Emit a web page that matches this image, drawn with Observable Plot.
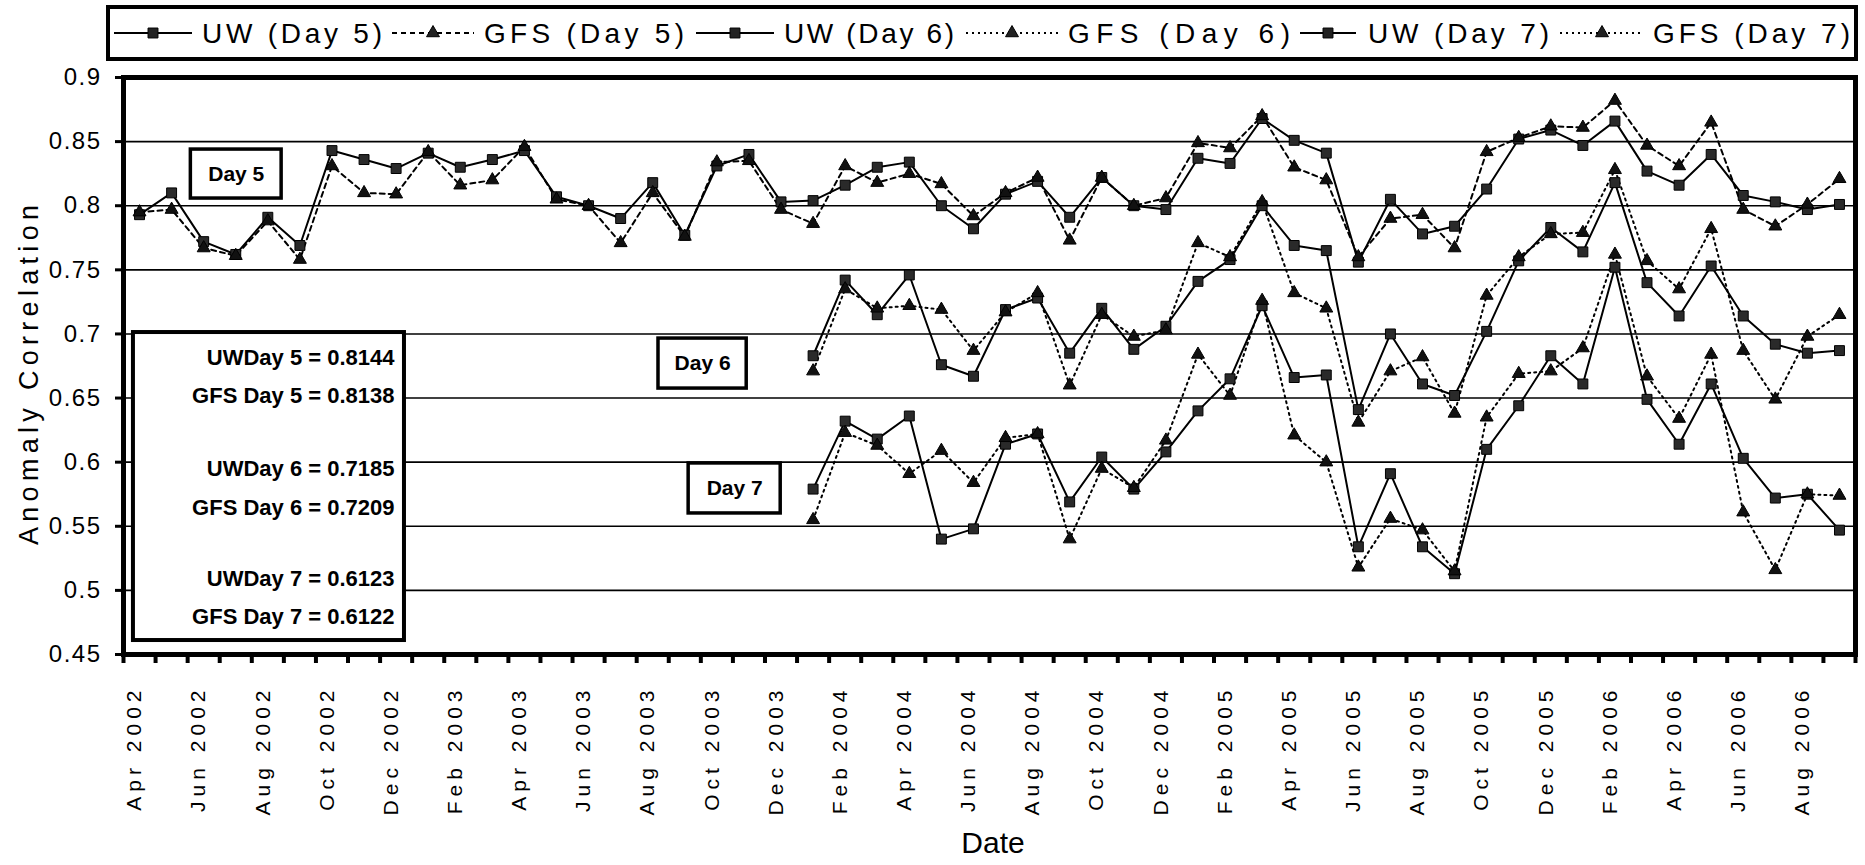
<!DOCTYPE html>
<html>
<head>
<meta charset="utf-8">
<script src="https://cdn.jsdelivr.net/npm/d3@7"></script>
<script src="https://cdn.jsdelivr.net/npm/@observablehq/plot@0.6"></script>
<style>
  html, body { margin: 0; padding: 0; background: #fff; }
  #chart { width: 1865px; height: 865px; }
  svg { font-family: "Liberation Sans", Arial, sans-serif; }
</style>
</head>
<body>
<div id="chart"></div>
<script>
// ---- categories (monthly, Apr 2002 .. Sep 2006) ----
const months = [
  "Apr 2002","May 2002","Jun 2002","Jul 2002","Aug 2002","Sep 2002","Oct 2002","Nov 2002","Dec 2002",
  "Jan 2003","Feb 2003","Mar 2003","Apr 2003","May 2003","Jun 2003","Jul 2003","Aug 2003","Sep 2003","Oct 2003","Nov 2003","Dec 2003",
  "Jan 2004","Feb 2004","Mar 2004","Apr 2004","May 2004","Jun 2004","Jul 2004","Aug 2004","Sep 2004","Oct 2004","Nov 2004","Dec 2004",
  "Jan 2005","Feb 2005","Mar 2005","Apr 2005","May 2005","Jun 2005","Jul 2005","Aug 2005","Sep 2005","Oct 2005","Nov 2005","Dec 2005",
  "Jan 2006","Feb 2006","Mar 2006","Apr 2006","May 2006","Jun 2006","Jul 2006","Aug 2006","Sep 2006"
];

// ---- series values ----
const uw5 = [0.793,0.810,0.772,0.762,0.791,0.769,0.843,0.836,0.829,0.841,0.830,0.836,0.843,0.807,0.800,0.790,0.818,0.777,
             0.831,0.840,0.803,0.804,0.816,0.830,0.834,0.800,0.782,0.809,0.819,0.791,0.822,0.800,0.797,0.837,0.833,0.868,
             0.851,0.841,0.756,0.805,0.778,0.784,0.813,0.852,0.859,0.847,0.866,0.827,0.816,0.840,0.808,0.803,0.797,0.801];
const gfs5 = [0.795,0.797,0.767,0.761,0.788,0.758,0.831,0.810,0.809,0.842,0.816,0.820,0.846,0.805,0.800,0.771,0.810,0.776,
              0.834,0.835,0.797,0.786,0.831,0.818,0.825,0.817,0.792,0.810,0.822,0.773,0.822,0.800,0.806,0.849,0.845,0.870,
              0.830,0.820,0.760,0.790,0.793,0.767,0.842,0.853,0.862,0.861,0.882,0.847,0.831,0.865,0.797,0.784,0.801,0.821];
// Day 6 and Day 7 start in Jan 2004
const day67Start = "Jan 2004";
const uw6 = [0.683,0.742,0.715,0.746,0.676,0.667,0.719,0.728,0.685,0.720,0.688,0.706,0.741,0.758,0.800,0.769,0.765,
             0.641,0.700,0.661,0.652,0.702,0.757,0.783,0.764,0.818,0.740,0.714,0.753,0.714,0.692,0.685,0.687];
const gfs6 = [0.671,0.735,0.720,0.722,0.719,0.687,0.717,0.732,0.660,0.715,0.698,0.703,0.771,0.760,0.803,0.732,0.720,
              0.631,0.671,0.682,0.638,0.730,0.760,0.778,0.779,0.828,0.757,0.735,0.782,0.687,0.649,0.698,0.715];
const uw7 = [0.579,0.632,0.618,0.636,0.540,0.548,0.614,0.622,0.569,0.604,0.579,0.608,0.640,0.665,0.722,0.666,0.668,
             0.534,0.591,0.534,0.513,0.610,0.644,0.683,0.661,0.752,0.649,0.614,0.661,0.603,0.572,0.575,0.547];
const gfs7 = [0.555,0.623,0.613,0.591,0.609,0.584,0.619,0.622,0.540,0.595,0.580,0.617,0.684,0.652,0.726,0.621,0.600,
              0.518,0.556,0.547,0.515,0.635,0.669,0.671,0.689,0.762,0.667,0.634,0.684,0.561,0.516,0.575,0.574];

const seriesNames = ["UW (Day 5)","GFS (Day 5)","UW (Day 6)","GFS (Day 6)","UW (Day 7)","GFS (Day 7)"];
const yTicks = [0.45,0.5,0.55,0.6,0.65,0.7,0.75,0.8,0.85,0.9];
const gridValues = [0.5,0.55,0.6,0.65,0.7,0.75,0.8,0.85];

// ---- annotation texts ----
const dayLabels = ["Day 5","Day 6","Day 7"];
const statTexts = ["UWDay 5 = 0.8144","GFS Day 5 = 0.8138","UWDay 6 = 0.7185","GFS Day 6 = 0.7209","UWDay 7 = 0.6123","GFS Day 7 = 0.6122"];

// ---- layout of annotations (in data space) ----
const dayBoxes = [
  {x1: 1.60, x2: 4.43, y1: 0.8056, y2: 0.8438},
  {x1: 16.18, x2: 18.93, y1: 0.6574, y2: 0.6964},
  {x1: 17.12, x2: 19.99, y1: 0.5600, y2: 0.5990}
];
const statBox = {x1: -0.19, x2: 8.26, y1: 0.4609, y2: 0.7011, textX: 7.95};
const statY = [0.6816, 0.6520, 0.5950, 0.5646, 0.5090, 0.4789];

// ---- build tables ----
const startIdx = months.indexOf(day67Start);
const defs = [
  {values: uw5, start: 0, kind: "uw", dash: null},
  {values: gfs5, start: 0, kind: "gfs", dash: "5,4"},
  {values: uw6, start: startIdx, kind: "uw", dash: null},
  {values: gfs6, start: startIdx, kind: "gfs", dash: "2,4"},
  {values: uw7, start: startIdx, kind: "uw", dash: null},
  {values: gfs7, start: startIdx, kind: "gfs", dash: "2,4"}
];
const tables = defs.map((d, k) => d.values.map((v, j) => ({i: d.start + j, month: months[d.start + j], v, series: seriesNames[k]})));

const dayNotes = dayBoxes.map((b, k) => ({...b, label: dayLabels[k]}));
const statLines = statTexts.map((t, k) => ({t, v: statY[k]}));

const boundaries = d3.range(-0.5, months.length, 1);
const labelIdx = d3.range(0, months.length, 2).filter(i => i <= 52);

const seriesMarks = [];
defs.forEach((d, k) => {
  seriesMarks.push(Plot.line(tables[k], {x: "i", y: "v", stroke: "black", strokeWidth: 2, strokeDasharray: d.dash}));
});
defs.forEach((d, k) => {
  seriesMarks.push(Plot.dot(tables[k], d.kind === "uw"
    ? {x: "i", y: "v", symbol: "square", r: 5.6, fill: "#2a2a2a", stroke: "#000", strokeWidth: 1}
    : {x: "i", y: "v", symbol: "triangle", r: 4.8, fill: "#111", stroke: "#000", strokeWidth: 1}));
});

const chart = Plot.plot({
  width: 1865,
  height: 865,
  marginTop: 77,
  marginBottom: 211,
  marginLeft: 123,
  marginRight: 10,
  style: {fontFamily: '"Liberation Sans", Arial, sans-serif', color: "black", background: "white", overflow: "visible"},
  x: {domain: [-0.5, months.length - 0.5]},
  y: {domain: [0.45, 0.9]},
  marks: [
    Plot.ruleY(gridValues, {stroke: "black", strokeWidth: 1.6}),
    Plot.rect([statBox], {x1: "x1", x2: "x2", y1: "y1", y2: "y2", fill: "white", stroke: "black", strokeWidth: 4}),
    Plot.text(statLines, {x: statBox.textX, y: "v", text: "t", textAnchor: "end", fontWeight: "bold", fontSize: 22, fill: "black"}),
    ...seriesMarks,
    Plot.rect(dayNotes, {x1: "x1", x2: "x2", y1: "y1", y2: "y2", fill: "white", stroke: "black", strokeWidth: 3.5}),
    Plot.text(dayNotes, {x: d => (d.x1 + d.x2) / 2, y: d => (d.y1 + d.y2) / 2, text: "label", fontWeight: "bold", fontSize: 21, fill: "black"}),
    Plot.axisY({ticks: yTicks, tickFormat: d => d3.format(".2~f")(d), tickSize: 8, tickPadding: 14, fontSize: 24, strokeWidth: 3, label: null}),
    Plot.axisX({ticks: boundaries, tickFormat: () => "", tickSize: 9, strokeWidth: 4, label: null}),
    Plot.axisX({ticks: labelIdx, tickFormat: i => months[i], tickSize: 0, tickPadding: 31, tickRotate: -90, fontSize: 21, dx: -5, label: null}),
    Plot.frame({stroke: "black", strokeWidth: 5})
  ]
});

document.getElementById("chart").appendChild(chart);

// ---- extra text: axis titles and legend ----
const svg = d3.select(chart.tagName.toLowerCase() === "svg" ? chart : chart.querySelector("svg"));
svg.selectAll('g[aria-label="x-axis tick label"] text').style("letter-spacing", "5px");
svg.selectAll('g[aria-label="y-axis tick label"] text').style("letter-spacing", "1.5px");

svg.append("text")
  .attr("transform", "translate(38,375) rotate(-90)")
  .attr("text-anchor", "middle")
  .attr("font-size", 27)
  .attr("textLength", 340)
  .attr("lengthAdjust", "spacing")
  .attr("fill", "black")
  .text("Anomaly Correlation");

svg.append("text")
  .attr("x", 993).attr("y", 853)
  .attr("text-anchor", "middle")
  .attr("font-size", 30)
  .attr("fill", "black")
  .text("Date");

const legendLayout = [
  {s1: 114, s2: 192, t1: 202, t2: 382},
  {s1: 392, s2: 474, t1: 484, t2: 684},
  {s1: 696, s2: 774, t1: 784, t2: 954},
  {s1: 966, s2: 1058, t1: 1068, t2: 1290},
  {s1: 1300, s2: 1356, t1: 1368, t2: 1549},
  {s1: 1560, s2: 1644, t1: 1653, t2: 1850}
];
const lg = svg.append("g").attr("aria-label", "legend").attr("text-anchor", "start");
lg.append("rect").attr("x", 108).attr("y", 7).attr("width", 1748).attr("height", 52)
  .attr("fill", "white").attr("stroke", "black").attr("stroke-width", 4);
const sq = d3.symbol(d3.symbolSquare, Math.PI * 5.6 * 5.6);
const tri = d3.symbol(d3.symbolTriangle, Math.PI * 4.8 * 4.8);
legendLayout.forEach((p, k) => {
  const d = defs[k];
  lg.append("line").attr("x1", p.s1).attr("x2", p.s2).attr("y1", 33).attr("y2", 33)
    .attr("stroke", "black").attr("stroke-width", 2).attr("stroke-dasharray", d.dash);
  lg.append("path").attr("d", d.kind === "uw" ? sq() : tri())
    .attr("transform", `translate(${(p.s1 + p.s2) / 2},33)`)
    .attr("fill", "#222").attr("stroke", "black");
  lg.append("text").attr("x", p.t1).attr("y", 43)
    .attr("text-anchor", "start")
    .attr("font-size", 28).attr("fill", "black")
    .attr("textLength", p.t2 - p.t1).attr("lengthAdjust", "spacing")
    .text(seriesNames[k]);
});
</script>
</body>
</html>
